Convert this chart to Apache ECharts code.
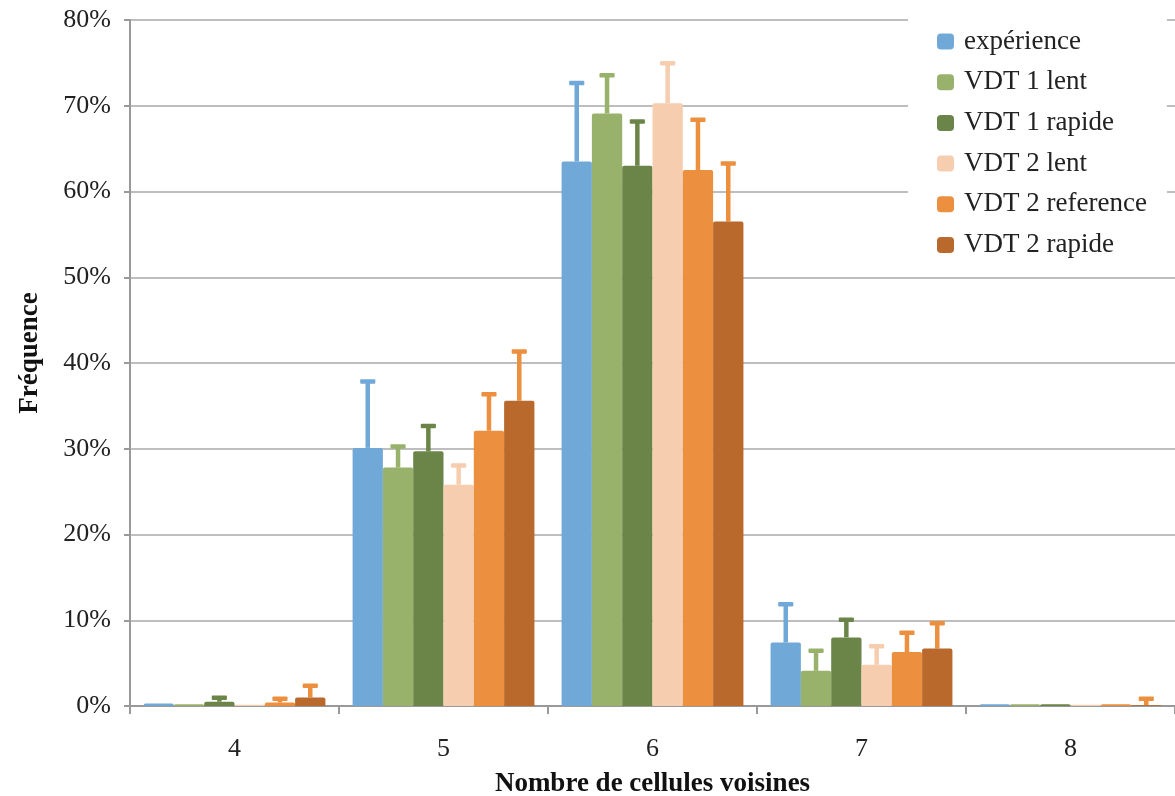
<!DOCTYPE html>
<html>
<head>
<meta charset="utf-8">
<script src="https://cdn.jsdelivr.net/npm/echarts@6/dist/echarts.min.js"></script>
<style>
html,body{margin:0;padding:0;background:#fff;}
#chart{width:1175px;height:796px;}
</style>
</head>
<body>
<div id="chart"></div>
<script>
// ---- data ----
const categories = ['4', '5', '6', '7', '8'];
const seriesNames = ['expérience', 'VDT 1 lent', 'VDT 1 rapide', 'VDT 2 lent', 'VDT 2 reference', 'VDT 2 rapide'];
const experience     = [0.3, 30.1, 63.5, 7.4, 0.2];
const vdt1Lent       = [0.2, 27.8, 69.1, 4.1, 0.2];
const vdt1Rapide     = [0.5, 29.7, 63.0, 8.0, 0.2];
const vdt2Lent       = [0.15, 25.8, 70.3, 4.8, 0.15];
const vdt2Reference  = [0.4, 32.1, 62.5, 6.3, 0.2];
const vdt2Rapide     = [1.0, 35.6, 56.5, 6.7, 0.1];
// upper error amounts
const errExperience    = [0, 7.9, 9.3, 4.6, 0];
const errVdt1Lent      = [0, 2.6, 4.6, 2.5, 0];
const errVdt1Rapide    = [0.6, 3.1, 5.3, 2.2, 0];
const errVdt2Lent      = [0, 2.4, 4.8, 2.3, 0];
const errVdt2Reference = [0.6, 4.4, 6.0, 2.4, 0];
const errVdt2Rapide    = [1.5, 5.9, 6.9, 3.1, 0.9];
const yTicks = [0, 10, 20, 30, 40, 50, 60, 70, 80];

const values = [experience, vdt1Lent, vdt1Rapide, vdt2Lent, vdt2Reference, vdt2Rapide];
const errors = [errExperience, errVdt1Lent, errVdt1Rapide, errVdt2Lent, errVdt2Reference, errVdt2Rapide];
const colors = ['#70A9D8', '#98B26C', '#6B8549', '#F7CDB0', '#EC8F3E', '#B8692B'];
const errColors = ['#70A9D8', '#98B26C', '#6B8549', '#F7CDB0', '#EC8F3E', '#EC8F3E'];

const FONT = '"Liberation Serif", "Times New Roman", serif';
const CAT_GAP = 0.13;
const N = seriesNames.length;

const series = [];
values.forEach((vals, i) => {
  series.push({
    name: seriesNames[i],
    type: 'bar',
    data: vals,
    barGap: '0%',
    barCategoryGap: (CAT_GAP * 100) + '%',
    itemStyle: { color: colors[i], borderRadius: [2, 2, 0, 0] },
    z: 2
  });
});
values.forEach((vals, i) => {
  const d = vals.map((v, k) => [k, v, v + errors[i][k]]).filter((p, k) => errors[i][k] > 0);
  series.push({
    type: 'custom',
    name: 'err' + i,
    data: d,
    z: 1,
    silent: true,
    encode: { x: 0, y: [1, 2] },
    renderItem: function (params, api) {
      const cat = api.value(0);
      const lo = api.coord([cat, api.value(1)]);
      const hi = api.coord([cat, api.value(2)]);
      const band = api.size([1, 0])[0];
      const bw = band * (1 - CAT_GAP) / N;
      const x = lo[0] + (i - (N - 1) / 2) * bw;
      const capW = bw * 0.5;
      const stemW = 4.5;
      const capH = 4.5;
      return {
        type: 'group',
        children: [
          { type: 'rect', shape: { x: x - stemW / 2, y: hi[1], width: stemW, height: lo[1] - hi[1] },
            style: { fill: errColors[i] } },
          { type: 'rect', shape: { x: x - capW / 2, y: hi[1] - 1, width: capW, height: capH, r: 1 },
            style: { fill: errColors[i] } }
        ]
      };
    }
  });
});

const chart = echarts.init(document.getElementById('chart'));
chart.setOption({
  animation: false,
  backgroundColor: '#fff',
  textStyle: { fontFamily: FONT },
  grid: { left: 130, right: 0, top: 20, bottom: 90, containLabel: false, outerBoundsMode: 'none' },
  legend: {
    data: seriesNames,
    orient: 'vertical',
    left: 908,
    top: 0,
    backgroundColor: '#fff',
    padding: [28, 20, 14, 29],
    itemGap: 13.7,
    itemWidth: 17,
    itemHeight: 16,
    icon: 'roundRect',
    textStyle: { fontFamily: FONT, fontSize: 27, color: '#222', padding: [0, 0, 0, 5] },
    z: 10
  },
  xAxis: {
    type: 'category',
    data: categories,
    axisLine: { lineStyle: { color: '#999', width: 2 } },
    axisTick: { show: true, length: 8, lineStyle: { color: '#999', width: 2 } },
    axisLabel: { fontFamily: FONT, fontSize: 26, color: '#222', margin: 30 },
    name: 'Nombre de cellules voisines',
    nameLocation: 'middle',
    nameGap: 65,
    nameTextStyle: { fontFamily: FONT, fontSize: 27, fontWeight: 'bold', color: '#111' }
  },
  yAxis: {
    type: 'value',
    min: 0,
    max: 80,
    interval: 10,
    axisLine: { show: true, lineStyle: { color: '#999', width: 2 } },
    axisTick: { show: true, length: 6, lineStyle: { color: '#999', width: 2 } },
    axisLabel: { fontFamily: FONT, fontSize: 26, color: '#222', margin: 19,
      formatter: v => yTicks.indexOf(v) >= 0 ? v + '%' : '' },
    splitLine: { lineStyle: { color: '#A8A8A8', width: 1.5 } },
    name: 'Fréquence',
    nameLocation: 'middle',
    nameGap: 86,
    nameTextStyle: { fontFamily: FONT, fontSize: 27, fontWeight: 'bold', color: '#111', padding: [0, 0, 0, 20] }
  },
  series: series
});
</script>
</body>
</html>
